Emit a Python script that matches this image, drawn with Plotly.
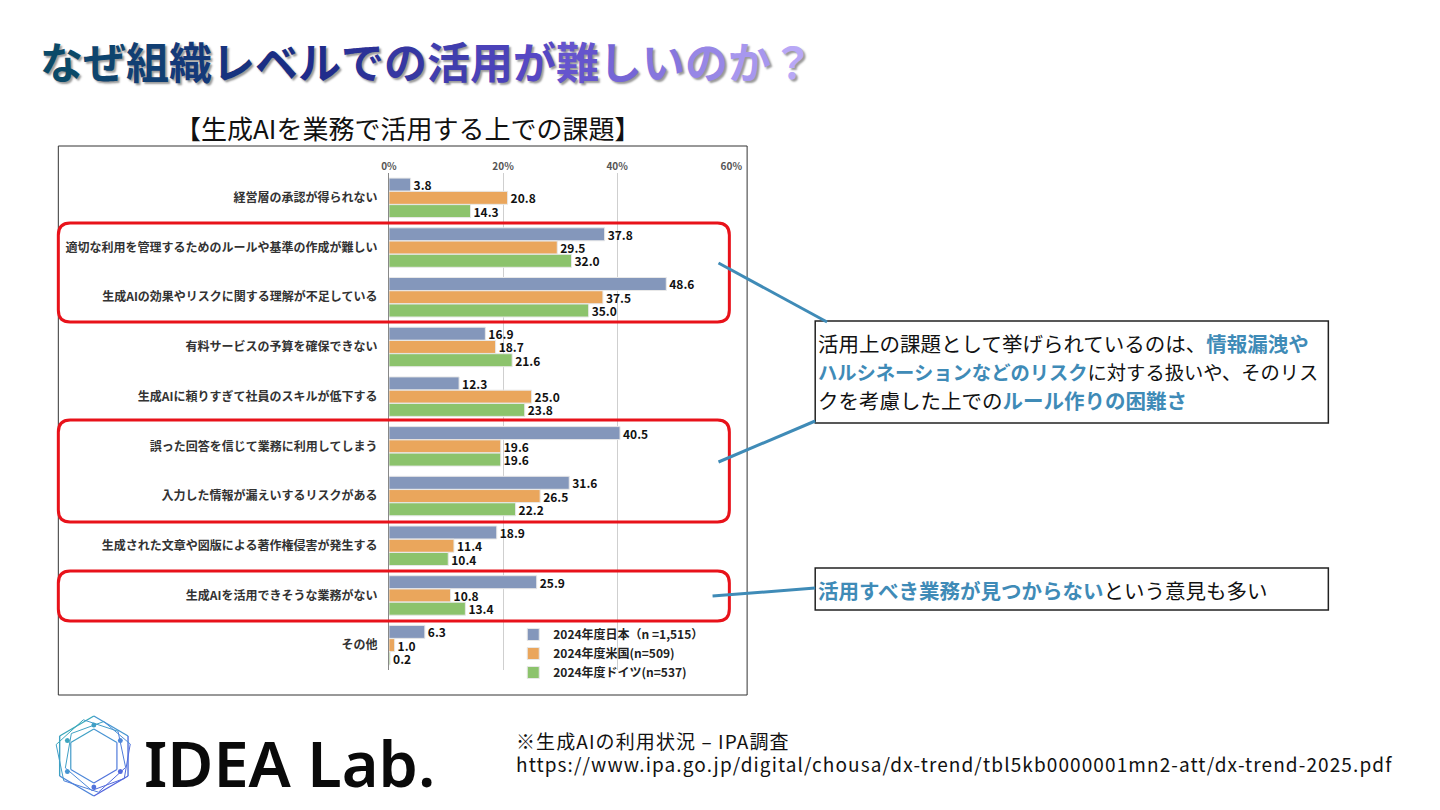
import math
import plotly.graph_objects as go

W, H = 1440, 810

# --- data -------------------------------------------------------------
categories = [
    "経営層の承認が得られない",
    "適切な利用を管理するためのルールや基準の作成が難しい",
    "生成AIの効果やリスクに関する理解が不足している",
    "有料サービスの予算を確保できない",
    "生成AIに頼りすぎて社員のスキルが低下する",
    "誤った回答を信じて業務に利用してしまう",
    "入力した情報が漏えいするリスクがある",
    "生成された文章や図版による著作権侵害が発生する",
    "生成AIを活用できそうな業務がない",
    "その他",
]
japan = [3.8, 37.8, 48.6, 16.9, 12.3, 40.5, 31.6, 18.9, 25.9, 6.3]
usa = [20.8, 29.5, 37.5, 18.7, 25.0, 19.6, 26.5, 11.4, 10.8, 1.0]
germany = [14.3, 32.0, 35.0, 21.6, 23.8, 19.6, 22.2, 10.4, 13.4, 0.2]
series_names = ["2024年度日本（n =1,515）", "2024年度米国(n=509)", "2024年度ドイツ(n=537)"]
x_ticks = [0, 20, 40, 60]
x_tick_labels = ["0%", "20%", "40%", "60%"]

colors = ["#8497bb", "#eaa65c", "#8cc36c"]
FONT = "Noto Sans CJK JP"
ACCENT = "#3f8bb7"


def px(x):
    return x / W


def py(y):
    return 1 - y / H


def rounded_rect(x0, y0, x1, y1, r):
    # path in paper coords built from pixel corners
    pts = [
        f"M {px(x0 + r)} {py(y0)}",
        f"L {px(x1 - r)} {py(y0)}",
        f"Q {px(x1)} {py(y0)} {px(x1)} {py(y0 + r)}",
        f"L {px(x1)} {py(y1 - r)}",
        f"Q {px(x1)} {py(y1)} {px(x1 - r)} {py(y1)}",
        f"L {px(x0 + r)} {py(y1)}",
        f"Q {px(x0)} {py(y1)} {px(x0)} {py(y1 - r)}",
        f"L {px(x0)} {py(y0 + r)}",
        f"Q {px(x0)} {py(y0)} {px(x0 + r)} {py(y0)}",
        "Z",
    ]
    return " ".join(pts)


def mix(c1, c2, t):
    a = [int(c1[i:i + 2], 16) for i in (1, 3, 5)]
    b = [int(c2[i:i + 2], 16) for i in (1, 3, 5)]
    return "#" + "".join(f"{round(a[k] + (b[k] - a[k]) * t):02x}" for k in range(3))


def gradient(stops, t):
    n = len(stops) - 1
    i = min(int(t * n), n - 1)
    return mix(stops[i], stops[i + 1], t * n - i)


fig = go.Figure()

for name, vals, col in zip(series_names, [japan, usa, germany], colors):
    fig.add_trace(go.Bar(
        y=categories, x=vals, name=name, orientation="h",
        marker=dict(color=col, line=dict(color="#e8e8e8", width=1)),
        text=[f"{v:.1f}" for v in vals], textposition="outside",
        constraintext="none", cliponaxis=False,
        textfont=dict(family=FONT, size=12, color="#111", weight="bold"),
    ))

fig.update_layout(
    width=W, height=H,
    margin=dict(l=0, r=0, t=0, b=0),
    paper_bgcolor="white", plot_bgcolor="white",
    barmode="group", bargap=0.2, bargroupgap=0.02,
    showlegend=True,
    legend=dict(
        x=px(512), y=py(620), xanchor="left", yanchor="top",
        traceorder="normal", bgcolor="rgba(0,0,0,0)",
        font=dict(family=FONT, size=12, color="#222", weight="bold"),
        itemwidth=30, tracegroupgap=0,
    ),
    font=dict(family=FONT),
)

fig.update_xaxes(
    domain=[px(386), px(733)], range=[0, 60], side="top",
    tickvals=x_ticks, ticktext=x_tick_labels,
    showgrid=True, gridcolor="#cfcfcf", gridwidth=1,
    zeroline=False, showline=False, ticks="",
    tickfont=dict(family=FONT, size=10, color="#555", weight="bold"),
    fixedrange=True,
)
fig.update_yaxes(
    domain=[py(670), py(173)], autorange="reversed",
    showline=True, linecolor="#888", linewidth=1,
    ticks="", ticklabelstandoff=8,
    tickfont=dict(family=FONT, size=12, color="#333", weight="bold"),
    fixedrange=True,
)

shapes = []
# chart frame
shapes.append(dict(type="rect", xref="paper", yref="paper",
                   x0=px(51), x1=px(749), y0=py(695), y1=py(146),
                   line=dict(color="#333", width=1), layer="below"))
# red highlight boxes
for y0, y1 in [(223, 322), (420, 522), (571, 621)]:
    shapes.append(dict(type="path", xref="paper", yref="paper",
                       path=rounded_rect(51, y0, 731, y1, 12),
                       line=dict(color="#e8121a", width=3)))
# callout boxes
for x0, y0, x1, y1 in [(818, 321, 1338, 423), (818, 568, 1338, 610)]:
    shapes.append(dict(type="rect", xref="paper", yref="paper",
                       x0=px(x0), x1=px(x1), y0=py(y1), y1=py(y0),
                       line=dict(color="#222", width=1.5), fillcolor="white"))
# connector lines
for (xa, ya), (xb, yb) in [((720, 263), (830, 322)), ((720, 462), (818, 421)), ((714, 596), (818, 588))]:
    shapes.append(dict(type="line", xref="paper", yref="paper",
                       x0=px(xa), y0=py(ya), x1=px(xb), y1=py(yb),
                       line=dict(color=ACCENT, width=3)))

# logo: overlapping hexagons, teal -> purple
cx, cy = 87, 756
logo_stops = ["#2fb9a6", "#4a8fd8", "#5a48e0"]
for rad, rot, wdt, dx in [(40, 0, 1.4, 0), (37, 12, 1.0, -3), (35, -10, 1.0, 4), (27, 0, 1.2, 0)]:
    verts = []
    for k in range(6):
        a = math.radians(90 + 60 * k + rot)
        verts.append((cx + dx + rad * math.cos(a), cy - rad * math.sin(a)))
    for k in range(6):
        (xa, ya), (xb, yb) = verts[k], verts[(k + 1) % 6]
        t = ((xa + xb) / 2 - (cx - 40) + (ya + yb) / 2 - (cy - 40)) / 160
        shapes.append(dict(type="line", xref="paper", yref="paper",
                           x0=px(xa), y0=py(ya), x1=px(xb), y1=py(yb),
                           line=dict(color=gradient(logo_stops, max(0, min(1, t))), width=wdt)))
for k in range(6):
    a = math.radians(90 + 60 * k)
    xa, ya = cx + 31 * math.cos(a), cy - 31 * math.sin(a)
    t = (xa - (cx - 40) + ya - (cy - 40)) / 160
    shapes.append(dict(type="circle", xref="paper", yref="paper",
                       x0=px(xa - 2.5), x1=px(xa + 2.5), y0=py(ya + 2.5), y1=py(ya - 2.5),
                       fillcolor=gradient(logo_stops, max(0, min(1, t))), line=dict(width=0)))

fig.update_layout(shapes=shapes)

# title with per-character gradient and a soft shadow
title = "なぜ組織レベルでの活用が難しいのか？"
title_stops = ["#0b4a68", "#1c2a88", "#5a4ac8", "#b8a8f6"]
n = len(title)
colored = "".join(
    f"<span style='color:{gradient(title_stops, i / (n - 1))}'>{ch}</span>" for i, ch in enumerate(title)
)
fig.add_annotation(xref="paper", yref="paper", x=px(30), y=py(60), xanchor="left", yanchor="middle",
                   text=f"<b>{colored}</b>", showarrow=False,
                   font=dict(family=FONT, size=43, weight=900, shadow="2px 2px 2px #9a9a9a"))

# chart subtitle
fig.add_annotation(xref="paper", yref="paper", x=px(405), y=py(128), xanchor="center", yanchor="middle",
                   text="【生成AIを業務で活用する上での課題】", showarrow=False,
                   font=dict(family=FONT, size=26, color="#111"))

# callout texts, one annotation per line
blue = f"<span style='color:{ACCENT}'><b>%s</b></span>"
callout_lines = [
    ("活用上の課題として挙げられているのは、" + blue % "情報漏洩や", 343, 20.5),
    (blue % "ハルシネーションなどのリスク" + "に対する扱いや、そのリス", 372, 19.3),
    ("クを考慮した上での" + blue % "ルール作りの困難さ", 400, 20.5),
    (blue % "活用すべき業務が見つからない" + "という意見も多い", 590, 20.5),
]
for txt, yy, sz in callout_lines:
    fig.add_annotation(xref="paper", yref="paper", x=px(819), y=py(yy), xanchor="left", yanchor="middle",
                       text=txt, showarrow=False, align="left",
                       font=dict(family=FONT, size=sz, color="#111"))

# logo text
fig.add_annotation(xref="paper", yref="paper", x=px(136), y=py(762), xanchor="left", yanchor="middle",
                   text="IDEA Lab.", showarrow=False,
                   font=dict(family="Noto Sans", size=63, color="#0a0a0a", weight=600))

# source note
spaced = "<span style='letter-spacing:1.1px'>%s</span>"
fig.add_annotation(xref="paper", yref="paper", x=px(513), y=py(740), xanchor="left", yanchor="middle",
                   text=spaced % "※生成AIの利用状況 – IPA調査", showarrow=False,
                   font=dict(family=FONT, size=19, color="#111"))
fig.add_annotation(xref="paper", yref="paper", x=px(513), y=py(763), xanchor="left", yanchor="middle",
                   text=spaced % "https://www.ipa.go.jp/digital/chousa/dx-trend/tbl5kb0000001mn2-att/dx-trend-2025.pdf",
                   showarrow=False, font=dict(family=FONT, size=19, color="#111"))

fig.write_html("out.html", config={"displayModeBar": False},
               post_script="document.body.style.margin='0';document.body.style.overflow='hidden';")
